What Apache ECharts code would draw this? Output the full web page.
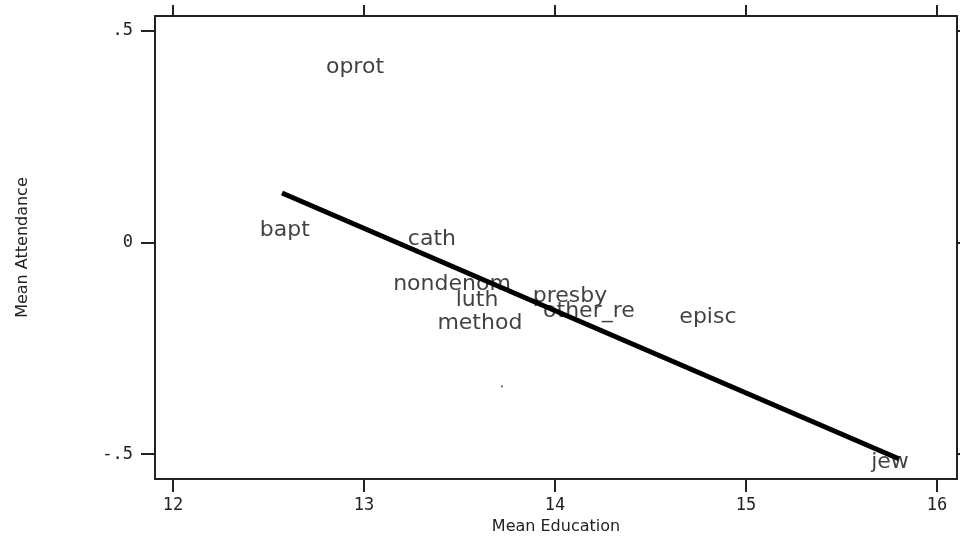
<!DOCTYPE html>
<html>
<head>
<meta charset="utf-8">
<script src="https://cdn.jsdelivr.net/npm/echarts@6/dist/echarts.min.js"></script>
<style>
  html, body { margin: 0; padding: 0; background: #fff; }
  #chart { width: 960px; height: 540px; }
</style>
</head>
<body>
<div id="chart"></div>
<script>
// denomination means: education (x) vs attendance (y)
let groups = ["bapt", "oprot", "cath", "nondenom", "luth", "presby", "other_re", "method", "episc", "jew"];
let meanEdu = [12.586, 12.953, 13.356, 13.461, 13.592, 14.079, 14.178, 13.607, 14.801, 15.754];
let meanAtt = [0.028, 0.415, 0.007, -0.099, -0.136, -0.127, -0.162, -0.190, -0.176, -0.519];

// stray unlabelled point
let dotX = [13.723];
let dotY = [-0.340];

// fitted line ends
let fitX = [12.571, 15.80];
let fitY = [0.117, -0.511];

let xTicks = [12, 13, 14, 15, 16];
let yTicks = [-0.5, 0, 0.5];
let yTickLabels = ["-.5", "0", ".5"];

let labelData = [];
for (let i = 0; i < groups.length; i++) {
  labelData.push({ name: groups[i], value: [meanEdu[i], meanAtt[i]] });
}
let dotData = [];
for (let i = 0; i < dotX.length; i++) {
  dotData.push([dotX[i], dotY[i]]);
}
let fitData = [];
for (let i = 0; i < fitX.length; i++) {
  fitData.push([fitX[i], fitY[i]]);
}

let axisColor = "#222";
let tickFont = { fontFamily: "DejaVu Sans Mono", fontSize: 17, color: "#222" };

let xMin = 11.906, xMax = 16.105;
let yMin = -0.559, yMax = 0.535;

let option = {
  backgroundColor: "#fff",
  animation: false,
  grid: { left: 155, right: 3, top: 16, bottom: 58 },
  xAxis: [
    {
      type: "value",
      position: "bottom",
      min: xMin,
      max: xMax,
      name: "Mean Education",
      nameLocation: "middle",
      nameGap: 37,
      nameTextStyle: { fontFamily: "DejaVu Sans", fontSize: 16, color: "#222" },
      axisLine: { show: true, onZero: false, lineStyle: { color: axisColor, width: 2 } },
      axisTick: { show: true, length: 13, customValues: xTicks, lineStyle: { color: axisColor, width: 2 } },
      axisLabel: Object.assign({ customValues: xTicks, margin: 18 }, tickFont),
      splitLine: { show: false }
    },
    {
      type: "value",
      position: "top",
      min: xMin,
      max: xMax,
      axisLine: { show: true, onZero: false, lineStyle: { color: axisColor, width: 2 } },
      axisTick: { show: true, length: 11, customValues: xTicks, lineStyle: { color: axisColor, width: 2 } },
      axisLabel: { show: false },
      splitLine: { show: false }
    }
  ],
  yAxis: [
    {
      type: "value",
      position: "left",
      min: yMin,
      max: yMax,
      name: "Mean Attendance",
      nameLocation: "middle",
      nameGap: 124,
      nameRotate: 90,
      nameTextStyle: { fontFamily: "DejaVu Sans", fontSize: 16, color: "#222" },
      axisLine: { show: true, onZero: false, lineStyle: { color: axisColor, width: 2 } },
      axisTick: { show: true, length: 14, customValues: yTicks, lineStyle: { color: axisColor, width: 2 } },
      axisLabel: Object.assign({
        customValues: yTicks,
        margin: 22,
        formatter: function (v) {
          let k = yTicks.indexOf(v);
          return k >= 0 ? yTickLabels[k] : "";
        }
      }, tickFont),
      splitLine: { show: false }
    },
    {
      type: "value",
      position: "right",
      min: yMin,
      max: yMax,
      axisLine: { show: true, onZero: false, lineStyle: { color: axisColor, width: 2 } },
      axisTick: { show: true, length: 11, customValues: yTicks, lineStyle: { color: axisColor, width: 2 } },
      axisLabel: { show: false },
      splitLine: { show: false }
    }
  ],
  series: [
    {
      name: "groups",
      type: "scatter",
      symbolSize: 0,
      itemStyle: { color: "#000" },
      label: {
        show: true,
        position: "inside",
        formatter: "{b}",
        fontFamily: "DejaVu Sans",
        fontSize: 22,
        color: "#111",
        textBorderWidth: 0
      },
      data: labelData,
      z: 2
    },
    {
      name: "dot",
      type: "scatter",
      symbol: "rect",
      symbolSize: 2,
      itemStyle: { color: "#444" },
      data: dotData,
      z: 2
    },
    {
      name: "fit",
      type: "line",
      symbol: "none",
      lineStyle: { color: "#000", width: 5 },
      data: fitData,
      z: 5
    }
  ]
};

let chart = echarts.init(document.getElementById("chart"));
chart.setOption(option);
</script>
</body>
</html>
